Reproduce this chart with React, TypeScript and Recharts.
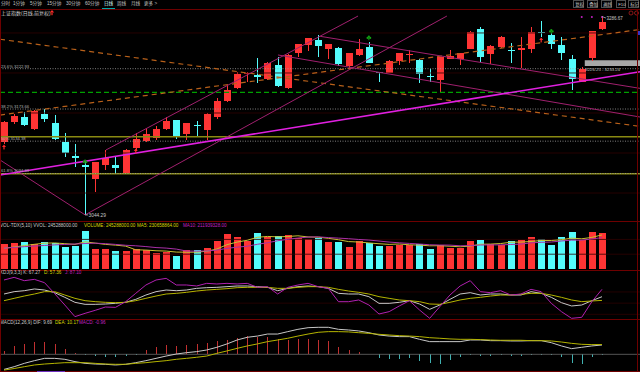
import React from 'react';
import { ComposedChart, Bar, Line, XAxis, YAxis, ReferenceLine, ReferenceArea, ReferenceDot, Scatter } from 'recharts';

// 日线 K 线（读图估算）
const opens = [3133.4, 3157.8, 3163.9, 3149.2, 3167.6, 3156.6, 3133.4, 3116.2, 3105.2, 3088.1,
  3105.2, 3105.2, 3095.5, 3126.0, 3134.6, 3138.2, 3149.2, 3160.2, 3143.1, 3154.1,
  3148.0, 3163.9, 3183.4, 3199.3, 3216.4, 3215.2, 3210.3, 3227.4, 3199.3, 3242.1,
  3251.9, 3258.0, 3247.0, 3248.2, 3226.2, 3239.7, 3249.4, 3218.9, 3217.7, 3232.3,
  3240.3, 3233.6, 3214.0, 3209.1, 3234.8, 3234.8, 3247.0, 3271.4, 3240.9, 3249.4,
  3245.8, 3245.8, 3247.0, 3267.8, 3264.1, 3251.9, 3234.8, 3206.7, 3236.0, 3271.4];
const closes = [3157.8, 3165.1, 3154.1, 3171.2, 3161.5, 3137.0, 3119.9, 3113.8, 3102.8, 3108.9,
  3113.8, 3101.6, 3123.6, 3137.0, 3143.1, 3149.2, 3159.0, 3139.5, 3156.6, 3152.9,
  3167.6, 3183.4, 3196.9, 3216.4, 3217.7, 3212.8, 3229.9, 3201.8, 3239.7, 3253.1,
  3260.4, 3250.7, 3253.1, 3228.7, 3242.1, 3247.0, 3229.9, 3217.7, 3232.3, 3242.1,
  3240.9, 3216.4, 3212.8, 3237.2, 3238.5, 3242.1, 3267.8, 3237.2, 3250.7, 3261.7,
  3244.6, 3248.2, 3267.8, 3266.5, 3253.1, 3242.1, 3210.3, 3222.6, 3269.0, 3280.0];
const highs = [3159.0, 3167.6, 3170.0, 3172.5, 3173.7, 3166.3, 3144.3, 3130.9, 3111.4, 3109.5,
  3123.6, 3115.0, 3124.8, 3144.3, 3150.5, 3152.9, 3163.9, 3160.8, 3156.6, 3159.0,
  3168.8, 3187.1, 3203.0, 3218.9, 3218.9, 3236.0, 3231.1, 3237.2, 3240.3, 3253.7,
  3261.0, 3264.1, 3253.7, 3249.4, 3242.7, 3259.2, 3255.6, 3219.5, 3233.0, 3242.7,
  3245.8, 3234.2, 3222.6, 3237.8, 3245.8, 3242.7, 3268.4, 3273.9, 3251.3, 3262.3,
  3254.3, 3261.7, 3273.9, 3281.6, 3266.5, 3261.7, 3239.7, 3225.0, 3269.6, 3286.67];
const lows = [3130.9, 3155.4, 3152.9, 3148.6, 3157.8, 3136.4, 3115.0, 3102.8, 3044.29, 3072.3,
  3099.1, 3095.5, 3095.0, 3123.6, 3133.4, 3135.8, 3148.0, 3137.0, 3135.8, 3140.7,
  3135.8, 3161.5, 3182.8, 3198.1, 3206.7, 3205.4, 3209.1, 3200.6, 3198.7, 3237.2,
  3244.6, 3237.2, 3234.8, 3226.2, 3223.8, 3238.5, 3229.3, 3206.7, 3217.1, 3227.4,
  3229.9, 3205.4, 3206.7, 3194.5, 3234.2, 3227.4, 3246.4, 3231.1, 3228.7, 3248.2,
  3229.9, 3223.8, 3242.1, 3261.7, 3247.0, 3233.6, 3196.9, 3206.1, 3232.3, 3270.2];

// 成交量（百万）与均量
const volumes = [167, 174, 182, 169, 180, 176, 149, 158, 257, 135, 133, 124, 124, 133, 126, 110, 113, 90, 128, 128,
  140, 189, 237, 216, 189, 241, 218, 223, 228, 212, 203, 209, 185, 180, 149, 189, 178, 158, 158, 162,
  162, 167, 135, 162, 144, 144, 189, 198, 167, 162, 189, 194, 218, 201, 162, 214, 248, 196, 248, 245.3];
const volMa5 = [140, 149, 158, 167, 174.4, 176.2, 171.2, 166.4, 184, 175, 166.4, 161.4, 154.6, 129.8, 128, 123.4, 121.2, 114.4, 113.4, 113.8,
  119.8, 135, 164.4, 182, 194.2, 214.4, 220.2, 217.4, 219.8, 224.4, 216.8, 215, 207.4, 197.8, 185.2, 182.4, 176.2, 170.8, 166.4, 169,
  163.6, 161.4, 156.8, 157.6, 154, 150.4, 154.8, 167.4, 168.4, 172, 181, 182, 186, 192.8, 192.8, 197.8, 208.6, 204.2, 213.6, 230.66];
const volMa10 = [141, 146, 151, 155, 159, 163, 166, 169, 172, 174.7, 171.3, 166.3, 160.5, 156.9, 151.5, 144.9, 141.3, 134.5, 121.6, 120.9,
  121.6, 128.1, 139.4, 147.7, 154, 167.1, 177.6, 190.9, 200.9, 209.3, 215.6, 217.6, 212.4, 208.8, 204.8, 199.6, 195.6, 189.1, 182.1, 177.1,
  173, 168.8, 163.8, 162, 161.5, 157, 158.1, 162.1, 163, 163, 165.7, 168.4, 176.7, 180.6, 182.4, 189.4, 195.3, 195.1, 203.2, 211.94];

// KDJ(9,3,3)
const kValues = [74.5, 80.8, 83.4, 88.0, 85.2, 78.1, 65.6, 52.2, 46.8, 46.8, 47.7, 49.5, 52.2, 60.2, 71.8, 80.8, 85.2, 83.4, 85.2, 89.7,
  91.5, 92.4, 94.2, 96.0, 96.0, 94.2, 92.4, 83.4, 89.7, 94.2, 96.0, 94.2, 89.7, 76.3, 74.5, 74.5, 67.4, 49.5, 49.5, 52.2,
  56.6, 47.7, 33.4, 45.0, 60.2, 74.5, 78.1, 71.8, 74.5, 74.5, 71.8, 71.8, 80.8, 76.3, 65.6, 51.3, 42.4, 45.0, 56.6, 67.27];
const dValues = [56.6, 62.9, 69.1, 74.5, 80.8, 80.8, 71.8, 62.9, 56.6, 54.0, 52.2, 51.3, 52.2, 56.6, 62.9, 69.1, 74.5, 76.3, 79.0, 82.5,
  85.2, 87.0, 88.9, 91.5, 92.4, 92.4, 92.4, 89.7, 89.7, 92.4, 94.2, 94.2, 92.4, 87.0, 82.5, 79.0, 74.5, 67.4, 62.9, 58.5,
  56.6, 54.0, 47.7, 46.8, 52.2, 58.5, 62.9, 65.6, 69.1, 71.8, 71.8, 73.6, 76.3, 76.3, 71.8, 65.6, 58.5, 54.0, 55.8, 57.36];
const jValues = [112.1, 119.2, 110.3, 113.8, 104.9, 75.4, 45.0, 13.8, 22.7, 30.7, 39.6, 38.7, 53.9, 76.3, 98.7, 112.1, 116.5, 98.7, 98.7, 96.0,
  103.1, 101.4, 103.1, 101.4, 103.1, 92.4, 94.2, 74.5, 92.4, 98.7, 103.1, 94.2, 89.7, 53.9, 53.9, 58.5, 45.0, 20.9, 27.2, 42.4,
  56.6, 31.6, 9.3, 40.6, 71.8, 96.0, 110.3, 80.8, 78.1, 83.4, 71.8, 74.5, 87.0, 80.8, 49.5, 27.2, 9.3, 12.0, 53.9, 87.10];

// MACD(12,26,9)
const difValues = [-15.7, -12.9, -9.4, -6.6, -4.2, -4.2, -5.2, -7.6, -9.4, -10.1, -10.4, -11.1, -10.4, -8.7, -6.6, -4.2, -1.8, 0.3, 1.7, 2.8,
  4.5, 7.3, 10.8, 14.9, 17.7, 19.0, 21.1, 21.1, 23.6, 26.0, 27.7, 28.1, 28.1, 26.0, 25.3, 24.3, 22.5, 20.1, 19.0, 18.4,
  18.4, 15.6, 13.2, 13.2, 13.2, 13.2, 14.9, 14.9, 14.2, 14.2, 13.9, 13.9, 14.2, 14.2, 12.1, 8.7, 5.9, 7.3, 8.7, 9.69];
const deaValues = [-16.4, -14.8, -12.9, -11.1, -10.1, -9.4, -8.7, -8.7, -8.7, -9.4, -10.1, -10.4, -10.4, -9.4, -8.7, -7.6, -6.6, -5.2, -4.2, -3.1,
  -1.8, 1.0, 3.5, 6.2, 8.7, 10.8, 13.2, 14.9, 16.7, 19.0, 21.1, 22.9, 23.6, 23.6, 23.3, 22.5, 21.8, 20.8, 20.1, 19.4,
  19.0, 18.4, 17.3, 16.7, 16.0, 15.6, 15.6, 15.3, 14.9, 14.6, 14.6, 14.6, 14.2, 14.2, 13.9, 12.8, 11.4, 10.4, 10.1, 10.17];
const macdValues = [3.5, 8.7, 10.8, 13.2, 13.2, 10.4, 5.6, 1.7, -0.3, -1.7, -2.4, -3.1, -1.4, -0.3, 4.5, 7.3, 9.7, 8.7, 9.7, 10.4,
  12.1, 14.2, 14.9, 17.3, 19.1, 17.7, 18.4, 15.6, 14.9, 15.6, 16.0, 14.9, 13.9, 7.3, 4.5, 2.8, 0.3, -4.2, -5.2, -5.2,
  -4.2, -6.6, -9.4, -10.1, -5.9, -3.1, -0.7, -1.7, -1.7, -1.0, -1.7, -1.4, -0.3, -0.7, -0.7, -3.1, -9.4, -10.1, -3.1, -0.96];

// 黄金分割位
const fibLevels = [
  { label: '23.6% 3222.93', price: 3222.93 },
  { label: '38.2% 3173.66', price: 3173.66 },
  { label: '50% 3134.38', price: 3134.38 },
  { label: '61.8% 3094.89', price: 3094.89 },
];
const olivePrices = [3139.8, 3094.5];
const greenDashPrice = 3194.1;
const gridPrices = [3266.6, 3217.7, 3168.8, 3119.9, 3071.0];

// 画线：[序号, 价格] 两端
const magentaTrend = [[-0.395, 3093.0], [62.75, 3219.3]];
const purpleLines = [
  [[-0.395, 3111.4], [8, 3044.3]],
  [[8, 3044.3], [43.7, 3287.3]],
  [[10.06, 3123.6], [34.93, 3287.3]],
  [[27.03, 3239.7], [62.75, 3163.9]],
  [[31.2, 3262.5], [62.75, 3198.9]],
];
const orangeLines = [
  [[-0.395, 3166.3], [62.75, 3270.8]],
  [[-0.395, 3258.9], [62.75, 3152.4]],
];
const redArrows = [{ i: 0, p: 3127.2 }, { i: 13, p: 3122.3 }, { i: 53, p: 3258.0 }];
const greenMarks = [{ i: 8, p: 3108.9 }, { i: 36, p: 3260.4 }, { i: 54, p: 3268.4 }];
const purpleDots = [{ i: 57, p: 3286.1 }, { i: 58, p: 3286.1 }, { i: 59, p: 3286.1 }];
const boxRange = [3226.25, 3233.24];

const menuItems = ['分时', '1分钟', '5分钟', '15分钟', '30分钟', '60分钟', '日线', '周线', '月线', '更多 >'];
const menuX = [1, 13, 30, 47, 66, 85, 104, 117, 131, 144];
const buttons = ['复权', '叠加', '画线', 'F10', '标记'];
const buttonX = [573, 587, 601, 616, 628];

const RED = '#ff3434';
const CYAN = '#54fcfc';
const FONT = '"Liberation Sans", "Noto Sans CJK SC", sans-serif';
const X_DOMAIN: [number, number] = [-0.395, 62.75];

const rows = opens.map((o, i) => ({
  i, open: o, close: closes[i], high: highs[i], low: lows[i],
  vol: volumes[i], ma5: volMa5[i], ma10: volMa10[i],
  k: kValues[i], d: dValues[i], j: jValues[i],
  dif: difValues[i], dea: deaValues[i], macd: macdValues[i],
}));

const Candle = (props: any) => {
  const { x, y, width, height, payload } = props;
  if (x == null || y == null) return null;
  const top = Math.min(y, y + height);
  const h = Math.abs(height);
  const { open, close, high, low } = payload;
  const span = high - low || 1;
  const px = (p: number) => top + ((high - p) / span) * h;
  const color = close >= open ? RED : CYAN;
  const bTop = px(Math.max(open, close));
  const bBot = px(Math.min(open, close));
  const left = Math.round(x);
  const cx = left + 3.5;
  return (
    <g shapeRendering="crispEdges">
      <line x1={cx} x2={cx} y1={top} y2={top + h} stroke={color} strokeWidth={1} />
      <rect x={left} y={bTop} width={7} height={Math.max(1, bBot - bTop)} fill={color} />
    </g>
  );
};

const VolBar = (props: any) => {
  const { x, y, width, height, payload } = props;
  if (x == null) return null;
  const color = payload.close >= payload.open ? RED : CYAN;
  return <rect x={Math.round(x)} y={Math.min(y, y + height)} width={width} height={Math.abs(height)} fill={color} shapeRendering="crispEdges" />;
};

const MacdBar = (props: any) => {
  const { x, y, width, height, payload } = props;
  if (x == null) return null;
  const color = payload.macd >= 0 ? '#c03030' : '#40b0b0';
  const cx = Math.floor(x + width / 2);
  return <rect x={cx} y={Math.min(y, y + height)} width={1} height={Math.abs(height)} fill={color} shapeRendering="crispEdges" />;
};

const RedArrow = (p: any) => (
  <g fill="#ff2a2a">
    <polygon points={`${p.cx},${p.cy - 2.6} ${p.cx - 2},${p.cy} ${p.cx + 2},${p.cy}`} />
    <rect x={p.cx - 0.6} y={p.cy} width={1.2} height={2.4} />
  </g>
);

const GreenClub = (p: any) => (
  <g fill="#12a012">
    <circle cx={p.cx} cy={p.cy - 1.4} r={1.1} />
    <circle cx={p.cx - 1.3} cy={p.cy - 0.1} r={1.1} />
    <circle cx={p.cx + 1.3} cy={p.cy - 0.1} r={1.1} />
    <rect x={p.cx - 0.5} y={p.cy} width={1} height={2.2} />
  </g>
);

const Dot = (p: any) => <circle cx={p.cx} cy={p.cy} r={1} fill="#c020c0" />;

const Txt = ({ x, y, size, color, children }: any) => (
  <span style={{ position: 'absolute', left: x, top: y, fontSize: size, lineHeight: 1, color, whiteSpace: 'nowrap', fontFamily: FONT }}>
    {children}
  </span>
);

const HLine = ({ y, color = '#6e0000' }: any) => (
  <div style={{ position: 'absolute', left: 0, top: y, width: 640, height: 1, background: color }} />
);

const seg = (s: number[][]) => [{ x: s[0][0], y: s[0][1] }, { x: s[1][0], y: s[1][1] }];

export default function App() {
  const margin = { top: 0, right: 0, bottom: 0, left: 0 };
  return (
    <div style={{ position: 'relative', width: 640, height: 372, background: '#000', overflow: 'hidden', fontFamily: FONT }}>
      <style>{'body{margin:0;background:#000}'}</style>

      {/* 顶部菜单 */}
      {menuItems.map((m, idx) => (
        <Txt key={m} x={menuX[idx]} y={2} size={4.6} color={m === '日线' ? '#d8ffff' : '#c4c4c4'}>{m}</Txt>
      ))}
      <div style={{ position: 'absolute', left: 102, top: 8, width: 13, height: 1.2, background: '#00a8a8' }} />
      {buttons.map((b, idx) => (
        <div key={b} style={{ position: 'absolute', left: buttonX[idx], top: 0, width: b === 'F10' ? 10 : 11, height: 8, border: '0.6px solid #505050', boxSizing: 'border-box' }}>
          <Txt x={1.2} y={1.6} size={4.4} color="#c8c8c8">{b}</Txt>
        </div>
      ))}
      <HLine y={9} />

      {/* 主图 */}
      <div style={{ position: 'absolute', left: 0, top: 9 }}>
        <ComposedChart width={640} height={212} data={rows} margin={margin}>
          <XAxis dataKey="i" type="number" domain={X_DOMAIN} allowDataOverflow hide />
          <YAxis type="number" domain={[3036.82, 3295.88]} allowDataOverflow hide />
          {gridPrices.map((p) => (
            <ReferenceLine key={p} y={p} stroke="#300000" strokeWidth={0.8} />
          ))}
          {olivePrices.map((p) => (
            <ReferenceLine key={p} y={p} stroke="#8a8a12" strokeWidth={1.6} />
          ))}
          {fibLevels.map((f) => (
            <ReferenceLine key={f.label} y={f.price} stroke="#a0a0a0" strokeWidth={0.8} strokeDasharray="1 1.5"
              label={{ value: f.label, position: 'insideBottomLeft', offset: 1, fill: '#b0b0b0', fontSize: 4.2 }} />
          ))}
          <ReferenceLine y={greenDashPrice} stroke="#00a000" strokeWidth={1.2} strokeDasharray="5 3" />
          {orangeLines.map((s, k) => (
            <ReferenceLine key={'o' + k} segment={seg(s)} stroke="#b8601a" strokeWidth={1.2} strokeDasharray="5 4" ifOverflow="visible" />
          ))}
          {purpleLines.map((s, k) => (
            <ReferenceLine key={'p' + k} segment={seg(s)} stroke="#a0206e" strokeWidth={1} ifOverflow="visible" />
          ))}
          <ReferenceLine segment={seg(magentaTrend)} stroke="#e020e0" strokeWidth={1.6} ifOverflow="visible" />
          <ReferenceArea x1={57.3} x2={62.75} y1={boxRange[0]} y2={boxRange[1]} fill="#a8a8a8" fillOpacity={1} stroke="none" ifOverflow="visible" />
          <Bar dataKey={(d: any) => [d.low, d.high]} barSize={7} shape={Candle} isAnimationActive={false} />
          <Scatter data={redArrows} dataKey="p" shape={RedArrow} isAnimationActive={false} />
          <Scatter data={greenMarks} dataKey="p" shape={GreenClub} isAnimationActive={false} />
          <Scatter data={purpleDots} dataKey="p" shape={Dot} isAnimationActive={false} />
          <ReferenceDot x={8} y={3044.29} ifOverflow="visible" shape={(p: any) => (
            <g>
              <line x1={p.cx} x2={p.cx + 3} y1={p.cy} y2={p.cy} stroke="#c8c8c8" strokeWidth={0.8} />
              <text x={p.cx + 3.5} y={p.cy + 1.8} fill="#c8c8c8" fontSize={4.8} fontFamily={FONT}>3044.29</text>
            </g>
          )} />
          <ReferenceDot x={59} y={3286.67} ifOverflow="visible" shape={(p: any) => (
            <g>
              <line x1={p.cx} x2={p.cx + 4} y1={p.cy} y2={p.cy + 1.5} stroke="#c8c8c8" strokeWidth={0.7} />
              <text x={p.cx + 4.5} y={p.cy + 3.6} fill="#c8c8c8" fontSize={4.5} fontFamily={FONT}>3286.67</text>
            </g>
          )} />
          <ReferenceDot x={57.3} y={boxRange[0]} ifOverflow="visible" shape={(p: any) => (
            <text x={p.cx + 0.5} y={p.cy + 5.2} fill="#c0c0c0" fontSize={4.3} fontFamily={FONT}>
              {`${boxRange[0].toFixed(2)} - ${boxRange[1].toFixed(2)}`}
            </text>
          )} />
        </ComposedChart>
      </div>
      <Txt x={1} y={10.5} size={5} color="#d0d0d0">上证指数(日线,前复权)</Txt>
      <svg style={{ position: 'absolute', left: 49, top: 10 }} width={6} height={6}>
        <polygon points="3,0 0.8,2.6 5.2,2.6" fill="#ff2a2a" />
        <rect x={2.4} y={2.6} width={1.2} height={2.6} fill="#ff2a2a" />
      </svg>
      <svg style={{ position: 'absolute', left: 628, top: 10 }} width={12} height={6}>
        <circle cx={3} cy={3} r={2} fill="none" stroke="#c02020" strokeWidth={0.7} />
        <circle cx={8.5} cy={3} r={2} fill="none" stroke="#c02020" strokeWidth={0.7} />
      </svg>
      <div style={{ position: 'absolute', left: 637, top: 31, width: 3, height: 4, background: '#3434c8' }} />
      <HLine y={221} />

      {/* 成交量 */}
      <div style={{ position: 'absolute', left: 0, top: 221 }}>
        <ComposedChart width={640} height={48} data={rows} margin={margin}>
          <XAxis dataKey="i" type="number" domain={X_DOMAIN} allowDataOverflow hide />
          <YAxis type="number" domain={[0, 324.5]} allowDataOverflow hide />
          <ReferenceLine y={100} stroke="#300000" strokeWidth={0.8} />
          <ReferenceLine y={200} stroke="#300000" strokeWidth={0.8} />
          <Bar dataKey="vol" barSize={7} shape={VolBar} isAnimationActive={false} />
          <Line dataKey="ma5" stroke="#c8c030" strokeWidth={1} dot={false} isAnimationActive={false} />
          <Line dataKey="ma10" stroke="#a830a8" strokeWidth={1} dot={false} isAnimationActive={false} />
        </ComposedChart>
      </div>
      <Txt x={0} y={223.8} size={4.6} color="#c8c8c8">VOL-TDX(5,10) VVOL: 245288000.00</Txt>
      <Txt x={84} y={223.8} size={4.6} color="#d8d800">VOLUME: 245288000.00</Txt>
      <Txt x={137} y={223.8} size={4.6} color="#d8d800">MA5: 230658864.00</Txt>
      <Txt x={183} y={223.8} size={4.6} color="#c020c0">MA10: 211939328.00</Txt>
      <HLine y={270} />

      {/* KDJ */}
      <div style={{ position: 'absolute', left: 0, top: 270 }}>
        <ComposedChart width={640} height={50} data={rows} margin={margin}>
          <XAxis dataKey="i" type="number" domain={X_DOMAIN} allowDataOverflow hide />
          <YAxis type="number" domain={[4.8, 138.9]} allowDataOverflow hide />
          {[20, 50, 80].map((v) => (
            <ReferenceLine key={v} y={v} stroke="#2c0000" strokeWidth={0.8} />
          ))}
          <Line dataKey="k" stroke="#c8c8c8" strokeWidth={1} dot={false} isAnimationActive={false} />
          <Line dataKey="d" stroke="#b4b400" strokeWidth={1} dot={false} isAnimationActive={false} />
          <Line dataKey="j" stroke="#b020b0" strokeWidth={1} dot={false} isAnimationActive={false} />
        </ComposedChart>
      </div>
      <Txt x={0} y={270.8} size={4.6} color="#c8c8c8">KDJ(9,3,3) K: 67.27</Txt>
      <Txt x={44} y={270.8} size={4.6} color="#d8d800">D: 57.36</Txt>
      <Txt x={65} y={270.8} size={4.6} color="#c020c0">J: 87.10</Txt>
      <HLine y={319} />

      {/* MACD */}
      <div style={{ position: 'absolute', left: 0, top: 320 }}>
        <ComposedChart width={640} height={52} data={rows} margin={margin}>
          <XAxis dataKey="i" type="number" domain={X_DOMAIN} allowDataOverflow hide />
          <YAxis type="number" domain={[-18.4, 35.7]} allowDataOverflow hide />
          <ReferenceLine y={0} stroke="#6a6a6a" strokeWidth={0.8} />
          <Bar dataKey="macd" barSize={1} shape={MacdBar} isAnimationActive={false} />
          <Line dataKey="dif" stroke="#c8c8c8" strokeWidth={1} dot={false} isAnimationActive={false} />
          <Line dataKey="dea" stroke="#b4b400" strokeWidth={1} dot={false} isAnimationActive={false} />
        </ComposedChart>
      </div>
      <Txt x={0} y={320.7} size={4.6} color="#c8c8c8">MACD(12,26,9) DIF: 9.69</Txt>
      <Txt x={55} y={320.7} size={4.6} color="#d8d800">DEA: 10.17</Txt>
      <Txt x={79} y={320.7} size={4.6} color="#c020c0">MACD: -0.96</Txt>
      <HLine y={371} />
      <div style={{ position: 'absolute', left: 37, top: 370.5, width: 28, height: 1.5, background: '#7030c0' }} />

      {/* 左右边框 */}
      <div style={{ position: 'absolute', left: 0, top: 9, width: 1, height: 363, background: '#6e0000' }} />
      <div style={{ position: 'absolute', left: 637, top: 9, width: 1, height: 363, background: '#6e0000' }} />
    </div>
  );
}
